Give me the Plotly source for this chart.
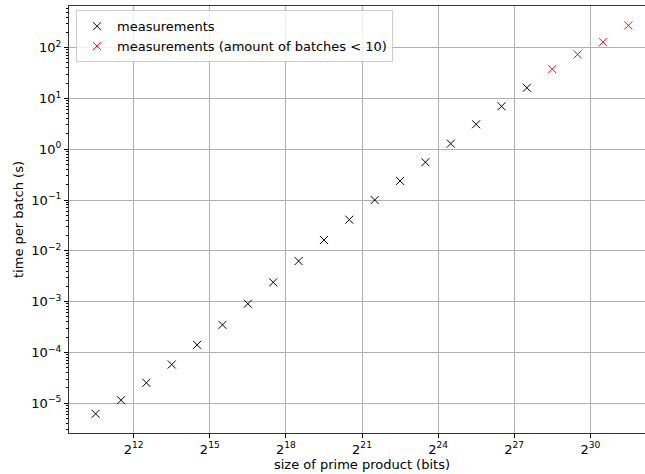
import plotly.graph_objects as go
import math

# log2 of prime product size (bits)
size_log2_black = [10.5, 11.5, 12.5, 13.5, 14.5, 15.5, 16.5, 17.5, 18.5, 19.5,
                   20.5, 21.5, 22.5, 23.5, 24.5, 25.5, 26.5, 27.5]
time_black = [6.2e-6, 1.15e-5, 2.53e-5, 5.8e-5, 1.41e-4, 3.5e-4, 9.1e-4, 2.4e-3,
              6.3e-3, 1.63e-2, 4.1e-2, 1.0e-1, 2.38e-1, 5.55e-1, 1.29, 3.1, 7.0, 16.2]
size_log2_red = [28.5, 29.5, 30.5, 31.5]
time_red = [37.8, 73.5, 128, 273]

x_tick_exps = [12, 15, 18, 21, 24, 27, 30]
y_tick_exps = [-5, -4, -3, -2, -1, 0, 1, 2]

x_black = [2 ** e for e in size_log2_black]
x_red = [2 ** e for e in size_log2_red]

minor_y = [m * 10.0 ** e for e in range(-6, 3) for m in range(2, 10)]

FONT = "DejaVu Sans"
FS = 13
fig = go.Figure()
fig.add_trace(go.Scatter(
    x=x_black, y=time_black, mode="markers", name="measurements",
    marker=dict(symbol="x-thin", size=8, line=dict(color="black", width=1), color="black"),
))
fig.add_trace(go.Scatter(
    x=x_red, y=time_red, mode="markers", name="measurements (amount of batches < 10)",
    marker=dict(symbol="x-thin", size=8, line=dict(color="red", width=1), color="red"),
))

L2 = math.log10(2)
fig.update_layout(
    width=656, height=474,
    margin=dict(l=69, r=1, t=6, b=41),
    paper_bgcolor="white", plot_bgcolor="white",
    font=dict(family=FONT, size=FS, color="black"),
    showlegend=True,
    legend=dict(
        x=0.012, y=0.99, xanchor="left", yanchor="top",
        bgcolor="rgba(255,255,255,0.8)", bordercolor="#cccccc", borderwidth=1,
        font=dict(family=FONT, size=FS),
    ),
    xaxis=dict(
        type="log", automargin=False,
        range=[9.45 * L2, 32.55 * L2],
        tickvals=[2 ** e for e in x_tick_exps],
        ticktext=["2<sup>%d</sup>" % e for e in x_tick_exps],
        ticks="outside", ticklen=4, tickcolor="black", tickwidth=1,
        showgrid=True, gridcolor="#b0b0b0", gridwidth=1,
        showline=True, linecolor="#333333", linewidth=1.2, mirror=True,
        zeroline=False,
        title=dict(text="size of prime product (bits)", font=dict(family=FONT, size=FS), standoff=4),
        tickfont=dict(family=FONT, size=FS),
    ),
    yaxis=dict(
        type="log", automargin=False,
        range=[-5.585, 2.819],
        tickvals=[10.0 ** e for e in y_tick_exps],
        ticktext=["10<sup>%s</sup>" % (str(e).replace("-", "\u2212")) for e in y_tick_exps],
        ticks="outside", ticklen=4, tickcolor="black", tickwidth=1,
        minor=dict(tickmode="array", tickvals=minor_y, ticks="outside", ticklen=2,
                   tickcolor="black", tickwidth=0.8, showgrid=False),
        showgrid=True, gridcolor="#b0b0b0", gridwidth=1,
        showline=True, linecolor="#333333", linewidth=1.2, mirror=True,
        zeroline=False,
        title=dict(text="time per batch (s)", font=dict(family=FONT, size=FS), standoff=4),
        tickfont=dict(family=FONT, size=FS),
    ),
)

fig.write_html("out.html", config={"displayModeBar": False},
               post_script="document.body.style.margin='0';document.body.style.overflow='hidden';")
